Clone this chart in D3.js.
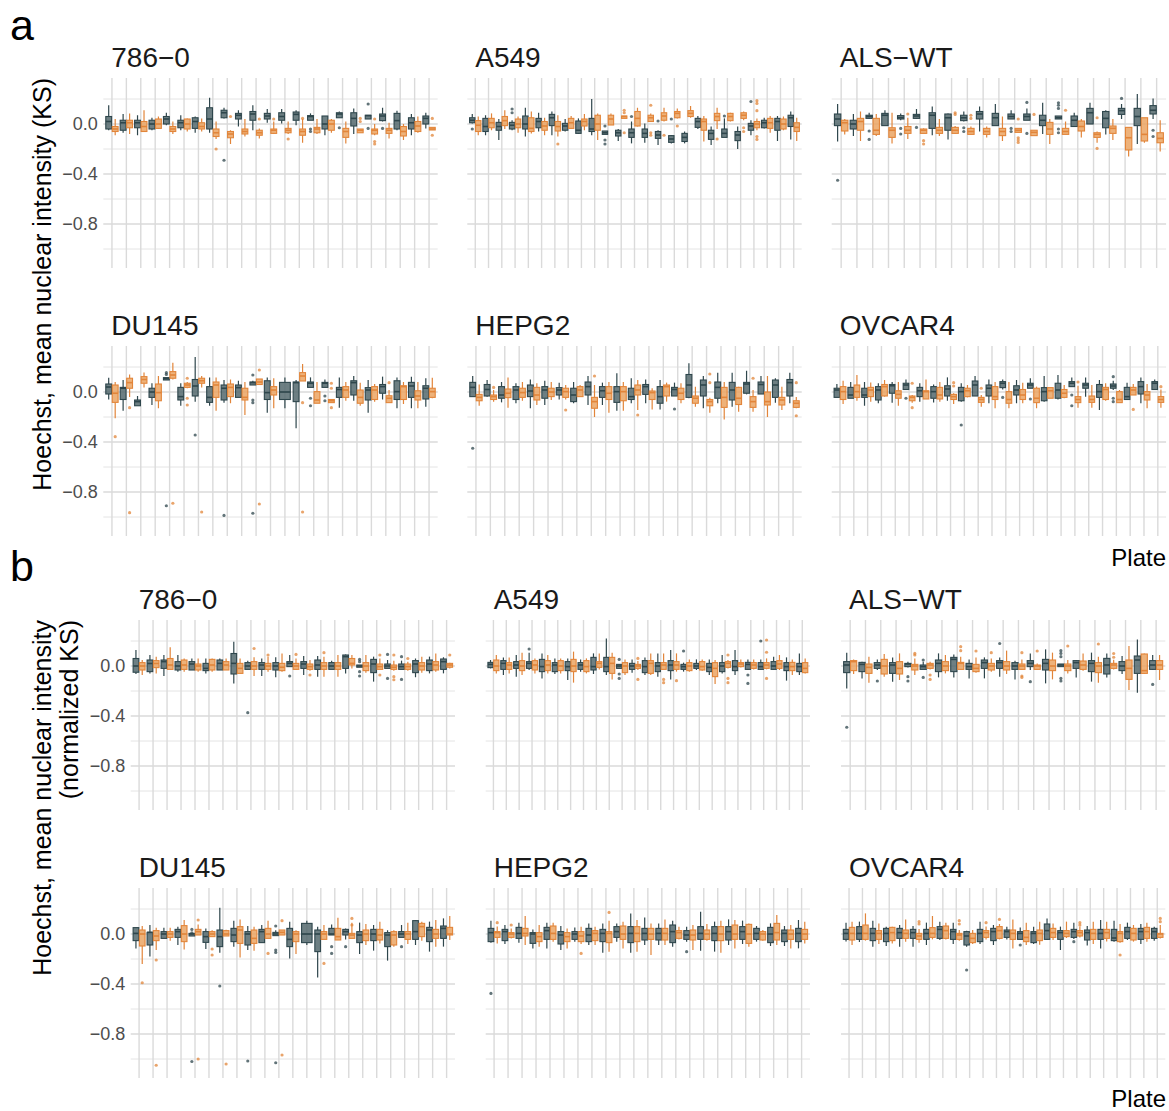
<!DOCTYPE html>
<html>
<head>
<meta charset="utf-8">
<script src="https://d3js.org/d3.v7.min.js"></script>
<style>
    body { margin: 0; background: #ffffff; }
    text { font-family: "Liberation Sans", Arial, Helvetica, sans-serif; }
</style>
</head>
<body>
<svg id="drawing_region"></svg>
<script>
// facet titles and axis ticks
const cell_lines = ["786\u22120", "A549", "ALS\u2212WT", "DU145", "HEPG2", "OVCAR4"];
const y_major = [0, -0.4, -0.8];
const y_minor = [0.2, -0.2, -0.6, -1.0];
const y_labels = ["0.0", "\u22120.4", "\u22120.8"];

// each row: [lower whisker, q1, median, q3, upper whisker, outliers]
// ---- a: KS ----
const a786_dark = [
 [-.05,-.04,.02,.06,.15],[-.07,-.05,.01,.03,.08],[-.09,-.03,.01,.03,.07],[-.05,-.04,.00,.03,.05],
 [-.01,.00,.04,.06,.09],[-.05,-.03,.01,.03,.07],[-.07,-.035,.02,.05,.06],[-.07,-.04,.04,.13,.21],
 [.045,.05,.09,.11,.13,[-.29]],[-.02,.04,.07,.085,.11],[-.05,.03,.08,.10,.15],[.01,.04,.064,.085,.12],
 [.005,.03,.06,.09,.12],[-.01,.03,.077,.096,.11],[.03,.03,.06,.067,.085,[-.04,-.06]],[-.09,-.04,.00,.064,.064],
 [.05,.05,.08,.09,.10,[-.03]],[-.08,-.016,.045,.09,.125],[.04,.04,.067,.07,.07,[.16,-.035]],[.02,.027,.064,.08,.13,[-.035]],
 [-.05,-.04,.027,.085,.107],[-.09,-.04,.01,.05,.08],[-.035,.00,.045,.064,.09]
];
const a786_orange = [
 [-.09,-.06,-.04,-.02,.04],[-.08,-.03,.01,.03,.085],[-.06,-.06,-.02,.02,.11],[-.04,-.035,.00,.04,.06],
 [-.08,-.06,-.04,-.02,.02],[-.06,-.04,.00,.04,.045],[-.06,-.04,-.02,.01,.045],[-.12,-.10,-.07,-.04,.02,[-.20]],
 [-.16,-.11,-.08,-.06,-.05,[.06]],[-.10,-.08,-.06,-.04,.04],[-.115,-.09,-.07,-.05,-.035,[.04]],[-.08,-.075,-.05,-.04,.02,[.04]],
 [-.08,-.07,-.05,-.035,.02,[-.12]],[-.15,-.09,-.06,-.04,.04,[.045]],[-.08,-.07,-.04,-.027,.04],[-.07,-.05,.00,.03,.04],
 [-.155,-.107,-.06,-.035,.02],[-.07,-.07,-.05,-.04,-.04,[.045,.02]],[-.09,-.08,-.05,-.04,.00,[.04,-.14,-.16]],[-.115,-.075,-.05,-.035,.01],
 [-.128,-.096,-.06,-.02,.00],[-.07,-.06,-.016,.02,.06],[-.048,-.048,-.04,-.027,-.027,[.045,-.09]]
];
const aA549_dark = [
 [.005,.01,.03,.05,.08,[-.04]],[-.09,-.06,-.02,.045,.07],[-.128,-.05,-.02,.013,.04],[-.05,-.04,-.01,.013,.03,[.12,.09]],
 [-.10,-.04,.00,.064,.13],[-.06,-.03,.02,.045,.09],[-.09,-.013,.05,.077,.10],[-.06,-.05,-.016,.005,.04],
 [-.08,-.075,-.05,.024,.045],[-.09,-.06,-.04,.045,.20],[-.083,-.083,-.07,-.056,-.056,[-.016,-.128,-.16]],[-.136,-.096,-.07,-.05,-.04],
 [-.155,-.107,-.07,-.04,.02,[.06]],[-.15,-.107,-.075,-.04,.005],[-.168,-.115,-.088,-.06,-.05,[.024]],[-.155,-.147,-.12,-.093,-.088,[.04]],
 [-.155,-.14,-.107,-.075,-.06],[-.04,-.027,.02,.045,.064],[-.168,-.123,-.075,-.05,-.02],[-.107,-.107,-.075,-.04,.045,[.064]],
 [-.20,-.133,-.088,-.06,-.02],[-.09,-.05,-.016,.005,.03,[.18]],[-.035,-.03,.01,.03,.05],[-.136,-.05,.02,.045,.064],
 [-.123,-.02,.05,.07,.10]
];
const aA549_orange = [
 [-.09,-.06,-.01,.027,.06],[-.05,-.03,.01,.045,.085],[-.04,-.013,.027,.06,.11],[-.07,-.03,.00,.04,.06],
 [-.075,-.06,-.035,.05,.10],[-.09,-.05,-.016,.02,.05],[-.10,-.056,-.02,.02,.07,[-.16]],[-.04,-.035,.01,.045,.064],
 [-.05,-.016,.02,.04,.08],[-.128,-.05,.00,.07,.085],[-.008,-.008,.04,.07,.085],[.045,.045,.06,.064,.064,[.11,.09,-.07]],
 [-.02,-.016,.045,.10,.13],[.02,.02,.05,.07,.085,[.15,-.07,-.09]],[.02,.03,.064,.09,.13,[-.09]],[.045,.05,.085,.10,.125,[-.016]],
 [.05,.06,.085,.107,.144],[-.14,-.05,.02,.04,.064],[-.04,.027,.06,.085,.13,[-.12]],[.02,.027,.06,.085,.09],
 [.03,.045,.07,.09,.10,[-.03,-.06]],[-.05,-.03,.00,.02,.045,[.187,.165,.107,-.10,-.123]],[-.07,-.035,.01,.045,.064],[-.05,-.04,.00,.04,.06],
 [-.136,-.06,-.027,.01,.05]
];
const aALS_dark = [
 [-.14,-.013,.04,.08,.16,[-.45]],[-.096,-.04,.00,.03,.08],[.04,.045,.06,.07,.09,[-.056,-.123]],[-.013,-.013,.07,.085,.11],
 [.03,.04,.05,.067,.085,[-.035,-.08]],[.04,.045,.064,.077,.12,[-.027]],[-.09,-.035,.07,.09,.14],[-.123,-.05,.05,.08,.085],
 [.02,.027,.05,.07,.10,[-.03,-.06]],[-.06,.04,.08,.10,.14],[-.013,-.013,.05,.085,.16],[.04,.04,.06,.08,.11,[-.035,-.06]],
 [.03,.03,.06,.08,.125,[.173,-.075]],[-.08,-.013,.03,.07,.17],[.04,.04,.05,.064,.064,[.17,.15,.125,-.04,-.07]],[-.02,-.02,.03,.064,.09],
 [.00,.00,.09,.125,.17],[-.083,-.03,.045,.10,.11],[.04,.077,.107,.125,.16,[.205]],[-.16,-.013,.06,.125,.24],
 [.04,.08,.11,.147,.205,[-.05,-.10]]
];
const aALS_orange = [
 [-.083,-.056,.01,.03,.04],[-.136,-.05,.02,.045,.10],[-.096,-.083,-.05,.045,.08],[-.155,-.107,-.05,-.03,.09],
 [-.12,-.075,-.05,-.02,.05,[.08]],[-.075,-.075,-.05,-.04,-.035,[-.133,-.16]],[-.096,-.075,-.05,-.027,.04],[-.08,-.075,-.05,-.027,-.016,[.09,.077]],
 [-.083,-.083,-.06,-.035,-.02,[.07,.045]],[-.107,-.083,-.06,-.035,-.02],[-.136,-.093,-.06,-.035,.06],[-.067,-.067,-.05,-.035,-.035,[.04,-.11,-.128,-.147]],
 [-.093,-.093,-.067,-.05,-.05,[.077]],[-.16,-.083,-.04,.013,.04],[-.083,-.083,-.06,-.035,.02,[.11]],[-.107,-.056,-.02,.024,.04],
 [-.15,-.107,-.083,-.07,-.06,[.05,-.195]],[-.128,-.075,-.035,-.016,.04],[-.26,-.208,-.11,-.027,-.027],[-.15,-.136,-.083,.05,.05],
 [-.22,-.15,-.115,-.07,.03]
];
const aDU145_dark = [
 [-.06,-.016,.04,.064,.115],[-.15,-.06,.03,.037,.096],[-.11,-.11,-.077,-.064,-.032],[-.104,-.043,.00,.03,.07],
 [.096,.096,.107,.115,.115,[.155,.14,-.91]],[-.11,-.064,-.037,.037,.07],[-.077,-.032,.048,.10,.28,[-.344]],[-.11,-.083,-.043,.043,.117],
 [-.085,-.064,.03,.056,.096,[-.987]],[-.043,-.043,.035,.056,.09],[.056,.056,.075,.08,.09,[.136,-.064,-.085,-.97]],[-.165,-.06,-.005,.09,.117],
 [-.13,-.06,.00,.077,.117],[-.29,-.077,.075,.08,.096],[.037,.037,.07,.08,.117,[-.05,-.11]],[.037,.037,.07,.077,.10,[-.032,-.07]],
 [-.125,-.043,.02,.037,.117],[-.07,-.024,.075,.09,.128],[-.165,-.064,.016,.035,.096],[-.06,-.01,.043,.06,.123],
 [-.13,-.06,.003,.09,.117],[-.13,-.043,.048,.077,.123],[-.117,-.056,.03,.05,.11]
];
const aDU145_orange = [
 [-.21,-.083,-.01,.056,.08,[-.357]],[-.04,.03,.075,.11,.14,[-.125,-.965]],[.037,.07,.10,.123,.157],[-.13,-.07,-.005,.064,.128],
 [.10,.11,.136,.163,.235,[-.89]],[.03,.037,.056,.07,.08,[.11,-.05,-.104]],[.037,.07,.09,.11,.128,[-.96]],[-.15,-.043,.056,.08,.117],
 [-.09,-.037,.037,.064,.10],[-.184,-.064,-.043,.03,.08],[.06,.06,.08,.104,.104,[.176,-.896]],[-.13,-.024,.016,.043,.11],
 null,[.088,.088,.128,.155,.224,[-.085,-.96]],[-.09,-.09,-.064,.003,.08],[-.085,-.085,-.07,-.06,-.06,[.07,.03,-.125]],
 [-.07,-.043,.016,.043,.08],[-.11,-.09,-.043,.016,.075],[-.077,-.06,.016,.043,.064],[-.085,-.085,-.05,-.03,.016,[.075]],
 [-.096,-.06,.043,.05,.08],[-.13,-.064,-.032,.01,.08],[-.05,-.043,.003,.03,.115]
];
const aHEPG2_dark = [
 [-.037,-.037,.037,.077,.128,[-.45]],[-.037,-.032,.02,.06,.096],[-.083,-.05,-.024,.043,.08],[-.09,-.06,.016,.043,.07],
 [-.13,-.037,.008,.056,.10],[-.104,-.05,.016,.043,.09],[-.06,-.024,.016,.035,.075],[-.09,-.077,-.024,.03,.08],
 [-.104,-.024,.043,.08,.128],[-.104,-.043,.01,.043,.075],[-.15,-.083,.003,.043,.15],[-.09,-.06,-.037,.03,.11],
 [-.09,-.019,.043,.06,.10],[-.14,-.09,-.037,.043,.096],[-.032,-.032,.02,.037,.075,[-.136]],[-.05,-.043,.056,.14,.23],
 [-.13,-.032,.056,.096,.128],[-.09,-.05,.037,.08,.155],[-.117,-.064,.016,.077,.155],[-.019,-.01,.064,.077,.17],
 [-.016,-.016,.06,.08,.128],[-.085,-.043,.056,.096,.11],[-.09,-.032,.075,.10,.155]
];
const aHEPG2_orange = [
 [-.11,-.07,-.043,-.019,.06],[-.077,-.06,-.037,-.024,.016,[.037]],[-.125,-.045,-.01,.024,.117],[-.07,-.043,-.005,.03,.08],
 [-.104,-.064,-.024,.037,.07],[-.064,-.037,.00,.03,.08],[-.06,-.043,.003,.03,.056,[-.144]],[-.037,-.037,.016,.043,.056],
 [-.20,-.13,-.077,-.043,.056,[.128]],[-.165,-.06,-.01,.043,.08],[-.15,-.07,.003,.043,.08],[-.144,-.024,.016,.056,.096,[-.184]],
 [-.14,-.06,-.005,.008,.03],[-.077,-.032,.043,.056,.075],[-.09,-.06,-.01,.03,.07],[-.117,-.09,-.05,-.032,.043],
 [-.165,-.11,-.077,-.06,-.045,[.144,.075]],[-.219,-.123,-.043,.037,.08],[-.157,-.10,-.05,.037,.043],[-.157,-.123,-.077,-.037,.016,[.11]],
 [-.20,-.104,-.077,.00,.128],[-.144,-.104,-.064,-.043,.043],[-.13,-.123,-.09,-.07,-.04,[.075,-.19]]
];
const aOVCAR4_dark = [
 [-.043,-.043,.016,.03,.064],[-.05,-.05,-.024,.037,.08],[-.11,-.043,-.024,.03,.08],[-.09,-.064,.016,.043,.07],
 [-.085,-.01,.05,.06,.08],[.016,.02,.056,.07,.10,[-.05]],[-.077,-.037,.01,.037,.07],[-.083,-.05,.003,.043,.06],
 [-.07,-.032,.024,.05,.117],[-.077,-.07,.003,.037,.07,[-.264]],[-.032,-.032,.056,.088,.128],[-.09,-.032,.03,.056,.10],
 [.02,.035,.07,.083,.10,[-.043]],[-.09,-.024,.016,.05,.096],[.03,.03,.056,.07,.11,[-.056]],[-.077,-.07,.003,.035,.128],
 [-.06,-.05,.016,.07,.136],[.043,.043,.07,.083,.117,[-.024,-.11]],[-.037,.03,.056,.07,.117],[-.144,-.043,.003,.06,.096],
 [.016,.03,.048,.064,.09,[.123,-.05,-.077]],[-.06,-.06,-.037,.037,.075],[-.09,-.016,.043,.083,.117],[.016,.02,.07,.083,.10]
];
const aOVCAR4_orange = [
 [-.096,-.06,.003,.043,.09],[-.07,-.043,.003,.056,.136],[-.077,-.037,.016,.037,.077],[-.037,-.032,.043,.06,.096],
 [-.11,-.05,-.019,.01,.08],[-.085,-.07,-.043,-.032,-.024,[.07,-.125]],[-.056,-.056,.003,.01,.10],[-.077,-.056,-.024,.037,.08],
 [-.096,-.06,-.037,-.019,-.01,[.075,.048]],[-.043,-.037,.01,.03,.056],[-.117,-.083,-.06,-.043,-.024,[.03]],[-.13,-.06,-.037,.043,.08],
 [-.13,-.09,-.06,.003,.08],[-.09,-.06,-.024,.02,.075],[-.13,-.085,-.05,.03,.043],[-.05,-.05,.01,.035,.035],
 [-.05,-.043,-.01,.02,.056],[-.125,-.085,-.06,-.037,.05,[.08]],[-.125,-.083,-.06,-.032,.056],[-.07,-.06,.02,.037,.07],
 [-.085,-.085,-.06,.003,.016],[-.024,-.024,.016,.037,.064,[-.139]],[-.13,-.064,-.024,.003,.064],[-.125,-.083,-.06,-.037,.02,[.043]]
];

// ---- b: normalized KS ----
const b786_dark = [
 [-.064,-.05,.00,.06,.128],[-.059,-.045,.02,.048,.088],[-.08,-.019,.035,.048,.088],[-.045,-.032,.00,.035,.088],
 [-.032,-.032,.016,.035,.06],[-.059,-.037,-.019,.021,.06],[-.032,-.032,.021,.048,.06],[-.139,-.064,.021,.10,.195],
 [-.027,-.027,.00,.027,.043,[-.373]],[-.08,-.027,.008,.027,.06],[-.09,-.032,.00,.027,.07],[-.005,-.005,.021,.035,.088,[-.08]],
 [-.072,-.019,.016,.035,.08],[-.085,-.027,.008,.048,.08],[-.027,-.027,.00,.027,.043],[-.059,-.019,.075,.088,.093],
 [-.01,-.01,.00,.008,.008,[.053,.035,-.045,-.08]],[-.125,-.053,.016,.053,.075],[-.019,-.019,.00,.016,.048,[.093,-.099]],[-.027,-.027,-.005,.016,.043,[.075,-.107]],
 [-.09,-.053,.016,.043,.06],[-.059,-.037,.016,.048,.075],[-.059,-.027,.035,.056,.07]
];
const b786_orange = [
 [-.072,-.032,.00,.027,.048],[-.059,-.013,.02,.043,.075],[-.027,-.027,.008,.06,.15],[-.045,-.027,.008,.048,.06],
 [-.045,-.032,.00,.016,.06],[-.045,-.032,.008,.053,.06],[-.032,-.032,.008,.035,.06],[-.059,-.059,-.019,.021,.06],
 [-.08,-.027,.00,.035,.07,[.14]],[-.045,-.027,.00,.021,.075,[.088]],[-.045,-.037,-.01,.021,.10],[-.032,-.027,.00,.021,.06,[.093]],
 [-.037,-.027,-.005,.016,.048,[-.072]],[-.085,-.027,.00,.027,.075,[.107]],[-.085,-.027,.00,.027,.088],[-.019,.008,.021,.06,.088],
 [-.053,-.037,.00,.027,.088],[-.027,-.027,-.005,.016,.06,[.088,-.072]],[-.037,-.027,-.01,.008,.043,[.088,-.085,-.11]],[-.037,-.027,-.005,.016,.035,[.06]],
 [-.053,-.032,.00,.027,.075],[-.045,-.032,.008,.035,.10],[-.019,-.01,.008,.021,.027,[.088]]
];
const bA549_dark = [
 [-.019,-.013,.013,.029,.048],[-.072,-.027,.021,.043,.069],[-.085,-.019,.008,.035,.088],[-.032,-.019,.021,.035,.107,[.136]],
 [-.099,-.045,-.005,.053,.101],[-.064,-.045,.008,.027,.061],[-.112,-.037,-.005,.035,.061],[-.045,-.027,.008,.027,.053],
 [-.064,-.032,-.005,.069,.101],[-.072,-.045,-.005,.069,.22],[-.019,-.019,.00,.013,.013,[.053,-.064,-.099]],[-.053,-.027,.00,.021,.053],
 [-.072,-.053,-.005,.043,.069],[-.085,-.045,.00,.027,.101],[-.107,-.037,.008,.043,.128],[-.045,-.027,-.005,.013,.027,[.12]],
 [-.032,-.019,.00,.021,.053],[-.072,-.045,-.011,.021,.053],[-.059,-.045,.00,.027,.088],[-.072,-.037,-.005,.043,.128],
 [-.032,-.027,.013,.029,.053,[-.072,-.139]],[-.032,-.027,-.005,.027,.053,[.20]],[-.032,-.027,.00,.035,.075],[-.117,-.037,-.005,.027,.069],
 [-.072,-.045,-.005,.021,.101]
];
const bA549_orange = [
 [-.059,-.037,.00,.048,.088],[-.059,-.027,.008,.027,.069],[-.072,-.037,.00,.043,.107],[-.059,-.032,.008,.043,.061],
 [-.059,-.037,.008,.043,.088],[-.059,-.037,.00,.043,.061],[-.133,-.045,.00,.053,.115],[-.059,-.045,-.005,.043,.061],
 [-.027,-.011,.021,.035,.101],[-.107,-.059,.021,.069,.107],[-.072,-.053,.00,.027,.053],[-.032,-.019,.00,.013,.04,[.061,-.107]],
 [-.072,-.059,.021,.043,.101],[-.03,-.027,.008,.027,.101,[-.107,-.133]],[-.045,-.027,.008,.035,.101,[-.117]],[-.045,-.037,.00,.027,.053],
 [-.037,-.032,-.005,.035,.053],[-.144,-.085,-.019,.027,.048],[-.019,-.011,.021,.035,.048,[.088,-.099,-.133]],[-.011,-.005,.016,.027,.053],
 [-.027,-.019,.008,.027,.053],[-.027,-.019,.008,.027,.061,[.208,.11,-.099]],[-.032,-.019,.016,.043,.088],[-.072,-.037,-.005,.029,.053],
 [-.059,-.053,-.019,.027,.061]
];
const bALS_dark = [
 [-.179,-.053,.008,.035,.107,[-.49]],[-.099,-.045,.013,.029,.035],[-.032,-.019,.008,.027,.053,[-.12]],[-.125,-.059,.008,.027,.069],
 [-.011,-.005,.016,.021,.035,[-.085,-.12]],[-.027,-.027,-.005,.008,.035,[.048,-.091]],[-.091,-.045,.021,.048,.101],[-.091,-.045,.053,.069,.093],
 [-.099,-.027,-.005,.021,.053],[-.099,-.019,.027,.048,.069],[-.085,-.019,.027,.043,.069,[.18]],[-.107,-.027,.00,.027,.043],
 [-.032,-.005,.021,.043,.101,[-.125]],[-.139,-.032,.021,.053,.133],[-.005,-.005,.008,.016,.016,[.123,.101,.075,-.099,-.12]],[-.091,-.019,.027,.043,.048],
 [-.125,-.045,.021,.043,.107],[-.091,-.064,.008,.061,.101],[-.064,-.037,.00,.035,.08],[-.213,-.059,.048,.08,.213],
 [-.032,-.027,.008,.043,.088,[-.147]]
];
const bALS_orange = [
 [-.064,-.037,.035,.043,.053],[-.133,-.059,-.011,.016,.075],[-.085,-.064,.00,.053,.096],[-.112,-.064,-.019,.035,.101],
 [-.072,-.032,.00,.013,.061,[.101,.088]],[-.027,-.019,.008,.021,.035,[-.072,-.107]],[-.059,-.037,.00,.035,.088],[-.027,-.027,.021,.029,.075,[.155,.123]],
 [-.053,-.045,-.019,.013,.069,[.12]],[-.045,-.032,.00,.021,.061,[.107]],[-.064,-.032,.00,.035,.123],[-.032,-.027,.00,.016,.053,[.107,-.08,-.091]],
 [-.032,-.027,.00,.008,.021,[.12]],[-.107,-.037,.00,.048,.107],[-.059,-.037,.00,.016,.048,[.16]],[-.037,-.027,.008,.04,.101],
 [-.133,-.053,.00,.027,.075,[.176]],[-.027,-.019,.008,.021,.05,[.10,.07]],[-.192,-.107,-.019,.048,.16],[-.064,-.059,-.037,.096,.101],
 [-.112,-.027,.008,.043,.088]
];
const bDU145_dark = [
 [-.115,-.053,.005,.051,.051],[-.18,-.088,.013,.013,.072],[-.035,-.035,.00,.019,.051],[-.088,-.027,.019,.037,.059],
 [-.016,-.016,.00,.005,.005,[.037,.01,-1.02]],[-.12,-.067,-.021,.019,.045],[-.149,-.101,-.021,.032,.21,[-.416]],[-.101,-.061,-.008,.045,.107],
 [-.128,-.088,.00,.019,.064,[-1.016]],[-.069,-.069,.019,.037,.072],[-.013,-.013,.00,.013,.03,[.064,-.128,-.147,-1.03]],[-.195,-.101,-.043,.045,.099],
 [-.088,-.069,.00,.085,.107],[-.347,-.141,.00,.032,.059],[-.008,-.008,.00,.045,.077,[-.101,-.155]],[-.043,-.008,.019,.037,.045,[-.101]],
 [-.16,-.069,-.008,.019,.091],[-.133,-.053,.00,.037,.072],[-.213,-.101,-.008,.011,.03],[-.027,-.027,.00,.019,.072,[-.101]],
 [-.088,-.043,.019,.107,.112],[-.141,-.061,.032,.053,.099],[-.101,-.035,.045,.064,.125]
];
const bDU145_orange = [
 [-.24,-.096,.00,.032,.064,[-.39]],[-.128,-.053,-.016,.027,.051,[-.208,-1.05]],[-.053,-.027,.00,.019,.051],[-.123,-.061,.00,.067,.112],
 [-.008,-.008,.019,.037,.077,[.112,-1.0]],[-.021,-.021,.00,.019,.03,[-.12,-.168]],[-.016,-.016,.00,.027,.035,[-1.04]],[-.187,-.075,.032,.059,.117],
 [-.133,-.075,-.035,.032,.059],[-.035,-.035,.00,.045,.107,[-.155]],[-.008,-.008,.013,.032,.032,[.107,-.968]],[-.16,-.061,.00,.019,.03],
 null,[-.043,-.043,.00,.019,.072,[-.235]],[-.048,-.048,-.021,.045,.131],[-.035,-.035,-.008,.005,.091,[.125,.072]],
 [-.088,-.053,.00,.032,.08],[-.075,-.048,-.008,.037,.099],[-.101,-.088,-.008,.019,.03],[-.08,-.043,.00,.019,.091],
 [-.053,-.021,.059,.085,.099],[-.101,-.035,.00,.037,.112],[-.048,-.008,.00,.053,.144]
];
const bHEPG2_dark = [
 [-.069,-.061,.011,.045,.107,[-.475]],[-.08,-.053,.019,.037,.072],[-.069,-.035,.005,.053,.091],[-.115,-.075,.00,.011,.037],
 [-.115,-.043,.027,.053,.091],[-.128,-.08,-.008,.019,.064],[-.061,-.043,.00,.019,.053],[-.088,-.061,-.008,.045,.085],
 [-.149,-.061,.005,.037,.085],[-.061,-.027,.019,.059,.085],[-.149,-.069,.005,.059,.165],[-.088,-.048,.005,.045,.133],
 [-.088,-.048,.005,.045,.085],[-.101,-.069,.019,.072,.107],[-.061,-.043,-.008,.027,.059,[-.141]],[-.133,-.043,.005,.059,.179],
 [-.141,-.053,.005,.059,.099],[-.088,-.048,.019,.059,.117],[-.08,-.043,.019,.059,.107],[-.061,-.043,.005,.045,.064],
 [-.096,-.069,.00,.053,.085],[-.096,-.061,.005,.032,.064],[-.115,-.061,.005,.045,.112]
];
const bHEPG2_orange = [
 [-.075,-.027,.011,.019,.06,[.091]],[-.035,-.027,.00,.011,.045,[.072]],[-.088,-.016,.005,.045,.144],[-.101,-.061,-.021,.011,.072],
 [-.061,-.043,.005,.064,.091],[-.115,-.061,-.021,.011,.045],[-.08,-.061,-.016,.019,.059,[-.155]],[-.088,-.053,.005,.027,.059],
 [-.141,-.069,.005,.019,.107,[.173]],[-.115,-.043,.00,.064,.099],[-.141,-.061,.005,.059,.112],[-.168,-.043,.00,.045,.085],
 [-.088,-.048,.005,.045,.117],[-.043,-.035,.011,.027,.059],[-.128,-.048,-.008,.032,.072],[-.053,-.043,.00,.032,.08],
 [-.149,-.053,.00,.059,.107],[-.115,-.043,.00,.072,.112],[-.101,-.075,.00,.077,.085],[-.053,-.048,.00,.019,.032],
 [-.088,-.048,.011,.085,.152],[-.115,-.043,.00,.032,.072],[-.075,-.043,.00,.037,.099]
];
const bOVCAR4_dark = [
 [-.059,-.043,.005,.037,.091],[-.064,-.043,.005,.059,.099],[-.101,-.053,.005,.045,.107],[-.096,-.061,.005,.045,.059],
 [-.101,-.035,.011,.045,.072],[-.101,-.035,.011,.037,.064],[-.088,-.043,.005,.037,.091],[-.048,-.035,.037,.059,.099],
 [-.08,-.043,.019,.037,.091],[-.101,-.088,-.016,.019,.027,[-.288]],[-.08,-.061,.005,.037,.099],[-.088,-.053,.019,.045,.072],
 [-.043,-.027,.019,.032,.059],[-.048,-.043,.005,.019,.053,[-.088]],[-.08,-.069,.005,.019,.059],[-.048,-.043,.027,.08,.125],
 [-.128,-.043,.011,.027,.059],[-.04,-.027,.019,.037,.091,[-.061]],[-.091,-.048,.011,.032,.064],[-.115,-.043,.005,.037,.112],
 [-.061,-.053,-.032,.037,.107],[-.048,-.035,.019,.053,.091],[-.08,-.043,.019,.045,.08],[-.053,-.035,.019,.045,.059]
];
const bOVCAR4_orange = [
 [-.088,-.048,.005,.053,.099],[-.053,-.043,.005,.072,.165],[-.08,-.043,.005,.027,.085],[-.075,-.053,.011,.053,.059],
 [-.061,-.035,.005,.032,.117],[-.069,-.043,-.016,.005,.04,[.099,.08]],[-.043,-.027,.005,.051,.144],[-.043,-.035,.027,.064,.091],
 [-.053,-.043,-.008,.005,.032,[.107,.08]],[-.08,-.069,-.035,.005,.032],[-.043,-.027,.011,.027,.06,[.091]],[-.043,-.035,.027,.059,.08,[.117]],
 [-.115,-.043,.005,.032,.117],[-.088,-.061,-.027,.027,.091],[-.085,-.053,.005,.032,.099],[-.048,-.027,.011,.045,.085],
 [-.032,-.021,.005,.027,.099],[-.027,-.016,.011,.027,.06,[.091,.072]],[-.08,-.043,.005,.037,.099],[-.059,-.035,.011,.037,.099],
 [-.069,-.061,.005,.019,.08,[-.168]],[-.061,-.048,.005,.045,.072],[-.061,-.035,.019,.053,.091],[-.035,-.027,.00,.005,.072,[.125,.099]]
];

const section_a = [
    [a786_dark, a786_orange], [aA549_dark, aA549_orange], [aALS_dark, aALS_orange],
    [aDU145_dark, aDU145_orange], [aHEPG2_dark, aHEPG2_orange], [aOVCAR4_dark, aOVCAR4_orange]
];
const section_b = [
    [b786_dark, b786_orange], [bA549_dark, bA549_orange], [bALS_dark, bALS_orange],
    [bDU145_dark, bDU145_orange], [bHEPG2_dark, bHEPG2_orange], [bOVCAR4_dark, bOVCAR4_orange]
];

const colors = {
    dark:   { stroke: "#2e464c", fill: "#54686d" },
    orange: { stroke: "#e2853a", fill: "#eba463" }
};

const svg = d3.select('#drawing_region')
    .attr('width', 1169)
    .attr('height', 1111);

class BoxFacet {

    constructor( config, dark, orange ) {
        this.config = {
            left: config.left,
            top: config.top,
            width: config.width || 330,
            height: config.height || 190,
            title: config.title || "",
            show_y: config.show_y || false,
            label_gap: config.label_gap || 5
        };
        this.dark = dark;
        this.orange = orange;
        this.init();
    }

    init() {
        let self = this;

        self.chart = svg.append('g')
            .attr('transform', `translate(${self.config.left}, ${self.config.top})`);

        self.xscale = d3.scalePoint()
            .domain( d3.range(self.dark.length) )
            .range( [0, self.config.width] )
            .padding(0.6);

        self.yscale = d3.scaleLinear()
            .domain( [-1.152, 0.368] )
            .range( [self.config.height, 0] );
    }

    render() {
        let self = this;
        const w = self.config.width, h = self.config.height;

        // grid
        self.chart.selectAll('.minor')
            .data(y_minor).enter().append('line')
            .attr('x1', 0).attr('x2', w)
            .attr('y1', d => self.yscale(d)).attr('y2', d => self.yscale(d))
            .attr('stroke', "#e4e4e4").attr('stroke-width', 1);
        self.chart.selectAll('.major')
            .data(y_major).enter().append('line')
            .attr('x1', 0).attr('x2', w)
            .attr('y1', d => self.yscale(d)).attr('y2', d => self.yscale(d))
            .attr('stroke', "#dadada").attr('stroke-width', 1.4);
        self.chart.selectAll('.vgrid')
            .data(self.xscale.domain()).enter().append('line')
            .attr('x1', d => self.xscale(d)).attr('x2', d => self.xscale(d))
            .attr('y1', 0).attr('y2', h)
            .attr('stroke', "#dadada").attr('stroke-width', 1.4);

        // title
        svg.append('text')
            .attr('x', self.config.left + 8)
            .attr('y', self.config.top - 11)
            .attr('font-size', "28px")
            .attr('fill', "#1a1a1a")
            .text(self.config.title);

        if (self.config.show_y) {
            svg.selectAll(null)
                .data(y_major).enter().append('text')
                .attr('x', self.config.left - self.config.label_gap)
                .attr('y', d => self.config.top + self.yscale(d))
                .attr('dy', "0.36em")
                .attr('text-anchor', "end")
                .attr('font-size', "18px")
                .attr('fill', "#4d4d4d")
                .text((d, i) => y_labels[i]);
        }

        const step = self.xscale.step();
        const series = [
            { data: self.dark, other: self.orange, col: colors.dark, side: -1 },
            { data: self.orange, other: self.dark, col: colors.orange, side: 1 }
        ];

        self.dark.forEach( (_, i) => {
            series.forEach( s => {
                const d = s.data[i];
                if (!d) return;
                const alone = !s.other[i];
                const cx = self.xscale(i) + (alone ? 0 : s.side * 0.225 * step);
                const bw = (alone ? 0.75 : 0.405) * step;
                const g = self.chart.append('g');

                g.append('line')
                    .attr('x1', cx).attr('x2', cx)
                    .attr('y1', self.yscale(d[3])).attr('y2', self.yscale(d[4]))
                    .attr('stroke', s.col.stroke).attr('stroke-width', 1.2);
                g.append('line')
                    .attr('x1', cx).attr('x2', cx)
                    .attr('y1', self.yscale(d[1])).attr('y2', self.yscale(d[0]))
                    .attr('stroke', s.col.stroke).attr('stroke-width', 1.2);
                g.append('rect')
                    .attr('x', cx - bw / 2)
                    .attr('y', self.yscale(d[3]))
                    .attr('width', bw)
                    .attr('height', Math.max(1, self.yscale(d[1]) - self.yscale(d[3])))
                    .attr('fill', s.col.fill)
                    .attr('fill-opacity', 0.85)
                    .attr('stroke', s.col.stroke)
                    .attr('stroke-width', 1.1);
                g.append('line')
                    .attr('x1', cx - bw / 2).attr('x2', cx + bw / 2)
                    .attr('y1', self.yscale(d[2])).attr('y2', self.yscale(d[2]))
                    .attr('stroke', s.col.stroke).attr('stroke-width', 1.6);
                g.selectAll('circle')
                    .data(d[5] || []).enter().append('circle')
                    .attr('cx', cx)
                    .attr('cy', v => self.yscale(v))
                    .attr('r', 1.6)
                    .attr('fill', s.col.stroke)
                    .attr('fill-opacity', 0.75);
            });
        });
    }
}

function drawSection( data, cfg ) {
    data.forEach( (pair, k) => {
        const col = k % 3, row = Math.floor(k / 3);
        const facet = new BoxFacet({
            left: cfg.lefts[col],
            top: cfg.tops[row],
            width: cfg.width,
            height: 190,
            title: cell_lines[k],
            show_y: col === 0,
            label_gap: 5.5
        }, pair[0], pair[1]);
        facet.render();
    });

    svg.append('text')
        .attr('x', 10).attr('y', cfg.letter_y)
        .attr('font-size', "43px").attr('fill', "#000")
        .text(cfg.letter);

    svg.append('text')
        .attr('x', 1166).attr('y', cfg.plate_y)
        .attr('text-anchor', "end")
        .attr('font-size', "24px").attr('fill', "#000")
        .text("Plate");

    const ytitle = svg.append('text')
        .attr('transform', `translate(${cfg.ytitle_x}, ${cfg.tops[0]}) rotate(-90)`)
        .attr('text-anchor', "end")
        .attr('font-size', "25px").attr('fill', "#000");
    cfg.ytitle.forEach( (line, i) => {
        ytitle.append('tspan')
            .attr('x', 0)
            .attr('y', i * 27)
            .text(line);
    });
}

drawSection( section_a, {
    lefts: [103.3, 467.3, 831.7], tops: [78, 346], width: 334.4,
    letter: "a", letter_y: 40, plate_y: 566, ytitle_x: 51,
    ytitle: ["Hoechst, mean nuclear intensity (KS)"]
});
drawSection( section_b, {
    lefts: [130.7, 485.7, 841], tops: [620, 888], width: 324.3,
    letter: "b", letter_y: 581, plate_y: 1107, ytitle_x: 51,
    ytitle: ["Hoechst, mean nuclear intensity", "(normalized KS)"]
});
</script>
</body>
</html>
